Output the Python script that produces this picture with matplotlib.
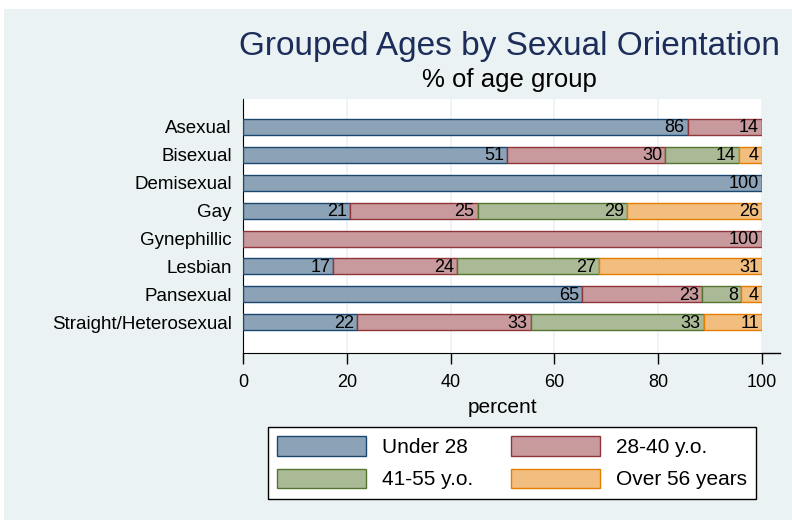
import numpy as np
import matplotlib
matplotlib.use("Agg")
import matplotlib.pyplot as plt
from matplotlib.patches import Rectangle

plt.rcParams['font.family'] = ['Liberation Sans', 'DejaVu Sans']

categories = ["Asexual", "Bisexual", "Demisexual", "Gay", "Gynephillic",
              "Lesbian", "Pansexual", "Straight/Heterosexual"]
groups = ["Under 28", "28-40 y.o.", "41-55 y.o.", "Over 56 years"]

# percent of each orientation in each age group
under28 = [85.7, 50.9, 100.0, 20.6, 0.0, 17.4, 65.4, 22.0]
age28_40 = [14.3, 30.5, 0.0, 24.6, 100.0, 23.8, 23.0, 33.4]
age41_55 = [0.0, 14.2, 0.0, 28.8, 0.0, 27.4, 7.6, 33.4]
over56 = [0.0, 4.4, 0.0, 26.0, 0.0, 31.4, 4.0, 11.2]

edge_colors = ["#1A476F", "#90353B", "#55752F", "#E37E00"]
fill_colors = ["#8CA3B7", "#C89A9D", "#AABA97", "#F1BE7F"]
bg = "#EAF2F3"

fig = plt.figure(figsize=(7.92, 5.2), dpi=100, facecolor="white")
fig.patches.append(Rectangle((4 / 792, 0), 1, 511 / 520, transform=fig.transFigure,
                             facecolor=bg, edgecolor="none", zorder=-10))

ax = fig.add_axes([243 / 792, 1 - 353 / 520, (762 - 243) / 792, (353 - 99) / 520])
ax.set_facecolor("white")

y = np.arange(len(categories))
left = np.zeros(len(categories))
handles = []
for vals, name, fc, ec in zip([under28, age28_40, age41_55, over56], groups,
                              fill_colors, edge_colors):
    vals = np.array(vals)
    bars = ax.barh(y, vals, left=left, height=0.575, color=fc, edgecolor=ec,
                   linewidth=1.0, label=name, zorder=3)
    handles.append(bars)
    for yi, l, v in zip(y, left, vals):
        if v > 0:
            ax.text(l + v - 0.6, yi + 0.03, f"{v:.0f}", ha="right", va="center",
                    fontsize=13, color="black", zorder=4)
    left += vals

ax.set_xlim(0, 100)
ax.set_ylim(len(categories) - 1 + 1.1, -1.0)
ax.set_yticks(y)
ax.set_yticklabels(categories, fontsize=13.5)
ax.tick_params(axis="y", length=0, pad=8)
ax.set_xticks([0, 20, 40, 60, 80, 100])
ax.tick_params(axis="x", labelsize=13, length=8, width=1, pad=7, colors="black")
ax.grid(axis="x", color=bg, linewidth=1.2, zorder=0)
for s in ["top", "right"]:
    ax.spines[s].set_visible(False)
ax.spines["left"].set_color("black")
ax.spines["bottom"].set_color("black")
# the x axis line runs a little past the last tick
ax.plot([1, 1.034], [0, 0], transform=ax.transAxes, color="black",
        linewidth=1.0, clip_on=False, zorder=5)
ax.set_xlabel("percent", fontsize=15, labelpad=5)

fig.text(509 / 792, 1 - 46 / 520, "Grouped Ages by Sexual Orientation",
         ha="center", va="center", fontsize=24, color="#1C2D5A")
fig.text(509 / 792, 1 - 80 / 520, "% of age group",
         ha="center", va="center", fontsize=18.5, color="black")

# legend is filled row by row
order = [0, 2, 1, 3]
leg = fig.legend([handles[i] for i in order], [groups[i] for i in order],
                 loc="center", bbox_to_anchor=(512 / 792, 1 - 463 / 520), ncol=2,
                 fontsize=15, frameon=True, fancybox=False, edgecolor="black",
                 framealpha=1, handlelength=4.3, handleheight=1.05,
                 columnspacing=1.8, labelspacing=0.55, handletextpad=0.75,
                 borderpad=0.45)
leg.get_frame().set_linewidth(1.0)

fig.savefig("out.png", dpi=100, facecolor=fig.get_facecolor())
